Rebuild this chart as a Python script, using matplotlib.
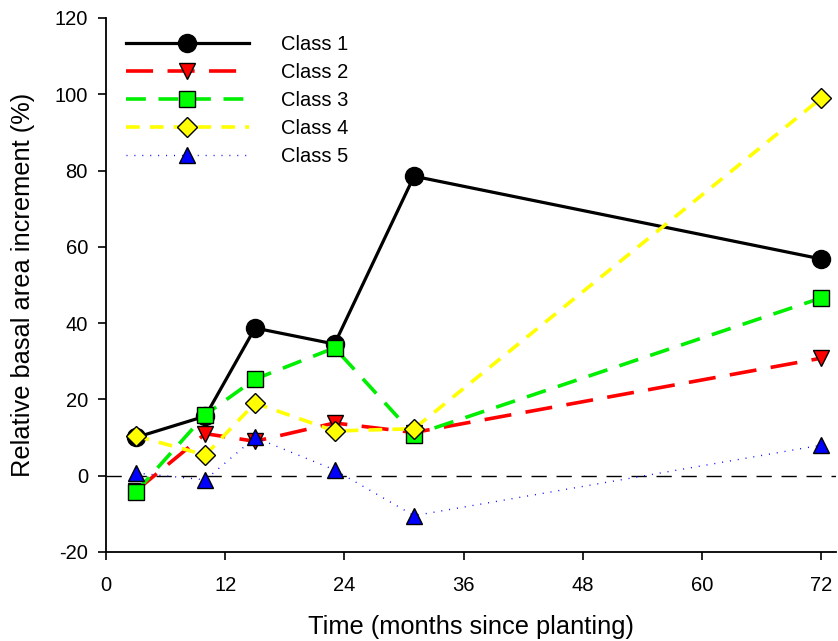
import matplotlib
matplotlib.use('Agg')
import matplotlib.pyplot as plt

plt.rcParams['font.family'] = ['Liberation Sans', 'DejaVu Sans']
plt.rcParams['axes.unicode_minus'] = False

months = [3, 10, 15, 23, 31, 72]
class1 = [10, 15.6, 38.7, 34.5, 78.5, 56.8]
class2 = [-4, 11, 9, 13.8, 11.3, 30.8]
class3 = [-4.3, 16, 25.3, 33.5, 10.7, 46.6]
class4 = [10.4, 5.4, 19, 11.7, 12.3, 99]
class5 = [0.7, -1.1, 10, 1.5, -10.5, 8]

labels = ['Class 1', 'Class 2', 'Class 3', 'Class 4', 'Class 5']
xticks = [0, 12, 24, 36, 48, 60, 72]
yticks = [-20, 0, 20, 40, 60, 80, 100, 120]

fig = plt.figure(figsize=(8.38, 6.41), dpi=100)
ax = fig.add_axes([0.1265, 0.139, 0.8715, 0.833])

ax.axhline(0, color='black', lw=1, dashes=(11, 7), zorder=1)

ax.plot(months, class1, color='black', lw=2.3, ls='-', marker='o', ms=13,
        mfc='black', mec='black', label=labels[0], zorder=3)
ax.plot(months, class2, color='red', lw=2.6, dashes=(7.5, 4), marker='v', ms=12,
        mfc='red', mec='black', mew=1, label=labels[1], zorder=3)
ax.plot(months, class3, color='#00ee00', lw=2.6, dashes=(5.5, 3.5), marker='s', ms=11.5,
        mfc='#00ff00', mec='black', mew=1, label=labels[2], zorder=3)
ax.plot(months, class4, color='yellow', lw=2.6, dashes=(3.8, 2.8), marker='D', ms=10.5,
        mfc='yellow', mec='black', mew=1, label=labels[3], zorder=3)
ax.plot(months, class5, color='blue', lw=1, ls=(0, (0.7, 5)), marker='^', ms=12,
        mfc='blue', mec='black', mew=1, label=labels[4], zorder=3)

ax.set_xlim(0, 73.5)
ax.set_ylim(-20, 120)
ax.set_xticks(xticks)
ax.set_yticks(yticks)
ax.tick_params(direction='out', labelsize=14.5, length=6, width=1.2, pad=11)
ax.tick_params(axis='y', pad=7)
for s in ['left', 'bottom']:
    ax.spines[s].set_linewidth(1.3)
ax.spines['top'].set_visible(False)
ax.spines['right'].set_visible(False)

ax.set_xlabel('Time (months since planting)', fontsize=18.3, labelpad=15)
ax.set_ylabel('Relative basal area increment (%)', fontsize=18.3, labelpad=14)

ax.legend(loc='upper left', frameon=False, fontsize=14.5, handlelength=6.1,
          handletextpad=1.6, labelspacing=0.45, borderaxespad=0.3,
          bbox_to_anchor=(0.008, 0.995))

plt.savefig('out.png', dpi=100)
